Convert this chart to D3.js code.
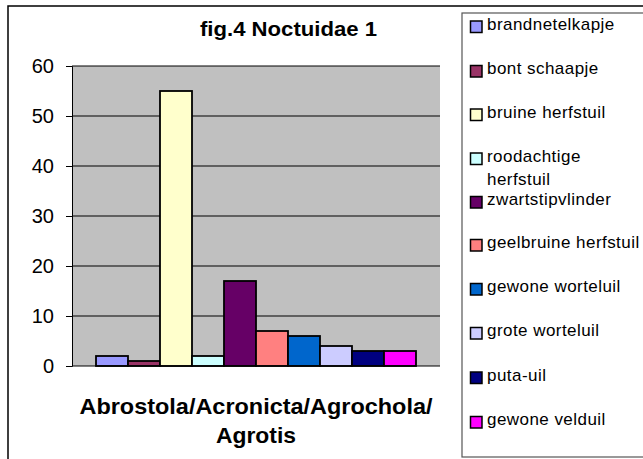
<!DOCTYPE html>
<html><head><meta charset="utf-8">
<script src="https://cdn.jsdelivr.net/npm/d3@7"></script>
<style>body{margin:0;background:#fff}svg{display:block}</style>
</head><body>
<svg id="c" width="643" height="459"></svg>
<script>
const species = ["brandnetelkapje","bont schaapje","bruine herfstuil","roodachtige herfstuil","zwartstipvlinder","geelbruine herfstuil","gewone worteluil","grote worteluil","puta-uil","gewone velduil"];
const values = [2,1,55,2,17,7,6,4,3,3];
const colors = ["#9999FF","#993366","#FFFFCC","#CCFFFF","#660066","#FF8080","#0066CC","#CCCCFF","#000080","#FF00FF"];
const yTicks = [0,10,20,30,40,50,60];
const legendLines = [["brandnetelkapje"],["bont schaapje"],["bruine herfstuil"],["roodachtige","herfstuil"],["zwartstipvlinder"],["geelbruine herfstuil"],["gewone worteluil"],["grote worteluil"],["puta-uil"],["gewone velduil"]];
const title = "fig.4 Noctuidae 1";
const xTitle = ["Abrostola/Acronicta/Agrochola/","Agrotis"];

const FONT = "'Liberation Sans', Arial, sans-serif";
const svg = d3.select("#c");
svg.style("font-family", FONT);
// outer frame
svg.append("rect").attr("x",8).attr("y",6).attr("width",660).attr("height",480)
  .attr("fill","#fff").attr("stroke","#000").attr("stroke-width",1.5);

const plot = {l:72, t:66, r:440, b:366};
const y = d3.scaleLinear().domain([0,60]).range([plot.b, plot.t]);
const x = d3.scaleBand().domain(species).range([plot.l+24, plot.r-24]).paddingInner(0).paddingOuter(0);

svg.append("rect").attr("x",plot.l).attr("y",plot.t).attr("width",plot.r-plot.l).attr("height",plot.b-plot.t)
  .attr("fill","#C0C0C0");

// gridlines
svg.append("g").selectAll("line").data(yTicks.filter(d=>d>0)).join("line")
  .attr("x1",plot.l).attr("x2",plot.r).attr("y1",d=>y(d)).attr("y2",d=>y(d))
  .attr("stroke","#000").attr("stroke-width",1);

// y axis
const yAxis = d3.axisLeft(y).tickValues(yTicks).tickSize(6).tickPadding(12);
const ga = svg.append("g").attr("transform",`translate(${plot.l},0)`).call(yAxis)
  .attr("font-family",null).attr("font-size",20);
ga.select(".domain").attr("stroke","#000").attr("stroke-width",1);
ga.selectAll(".tick line").attr("stroke","#000");
ga.selectAll(".tick text").attr("fill","#000").attr("font-size",20).style("font-family",FONT);

// bars
svg.append("g").selectAll("rect").data(species).join("rect")
  .attr("x",d=>x(d)).attr("width",x.bandwidth())
  .attr("y",(d,i)=>y(values[i])).attr("height",(d,i)=>y(0)-y(values[i]))
  .attr("fill",(d,i)=>colors[i]).attr("stroke","#000").attr("stroke-width",1.8);

// baseline
svg.append("line").attr("x1",plot.l).attr("x2",plot.r).attr("y1",y(0)).attr("y2",y(0)).attr("stroke","#000").attr("stroke-width",1);

// title
svg.append("text").attr("x",288.5).attr("y",35.5).attr("text-anchor","middle")
  .style("font-family",FONT).attr("font-size",21).attr("font-weight","bold")
  .attr("textLength",177).attr("lengthAdjust","spacingAndGlyphs").text(title);

// x title
const xLens = [353,80];
svg.append("g").selectAll("text").data(xTitle).join("text")
  .attr("x",256).attr("y",(d,i)=>414+i*29).attr("text-anchor","middle")
  .style("font-family",FONT).attr("font-size",22).attr("font-weight","bold")
  .attr("textLength",(d,i)=>xLens[i]).attr("lengthAdjust","spacingAndGlyphs").text(d=>d);

// legend
svg.append("rect").attr("x",462).attr("y",13).attr("width",200).attr("height",444)
  .attr("fill","#fff").attr("stroke","#555").attr("stroke-width",1.2);
const ly = [21,65.5,109,153,196.5,239.5,283.5,327.5,372,416.5];
const lg = svg.append("g").selectAll("g").data(species).join("g")
  .attr("transform",(d,i)=>`translate(0,${ly[i]})`);
lg.append("rect").attr("x",470.5).attr("y",0).attr("width",11.5).attr("height",11.5)
  .attr("fill",(d,i)=>colors[i]).attr("stroke","#000").attr("stroke-width",1.5);
lg.append("text").style("font-family",FONT).attr("font-size",17).attr("fill","#000").attr("letter-spacing",0.45)
  .selectAll("tspan").data((d,i)=>legendLines[i]).join("tspan")
  .attr("x",487).attr("y",(d,j)=>8.5+j*23.5).text(d=>d);
</script>
</body></html>
